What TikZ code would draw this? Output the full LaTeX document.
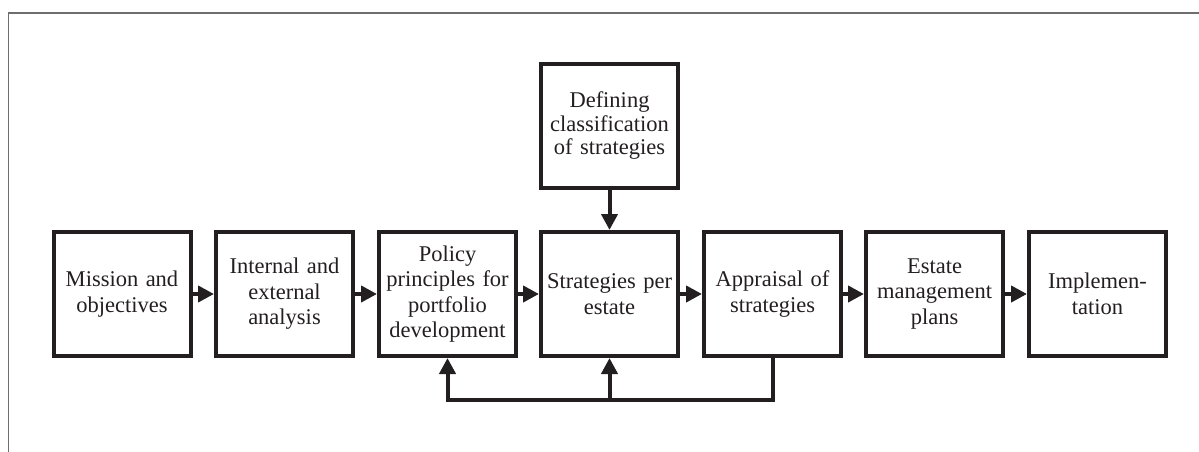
\documentclass[tikz,border=0pt]{standalone}
\usepackage{fontspec}
\setmainfont{Liberation Serif}
\usetikzlibrary{arrows.meta}
\definecolor{ink}{HTML}{231F20}
\definecolor{framec}{HTML}{6E6E6E}
\begin{document}
\begin{tikzpicture}[x=1pt,y=-1pt,
  box/.style={draw=ink, line width=4pt, minimum width=137pt, minimum height=124pt,
    inner sep=0pt, align=center, text width=134pt, text=ink,
    font=\fontsize{22.5}{25.5}\selectfont},
  conn/.style={draw=ink, line width=4pt, -{Triangle[length=16pt,width=16pt]}},
  frameline/.style={draw=framec, line width=1.5pt}]
\useasboundingbox (0,0) rectangle (1199,452);
\draw[frameline] (8.5,452) -- (8.5,13) -- (1199,13);
\node[box] (mis) at (122,294) {Mission and\\objectives};
\node[box] (ana) at (284.5,294) {Internal and\\external\\analysis};
\node[box] (pol) at (447.5,294) {Policy\\principles for\\portfolio\\development};
\node[box] (str) at (609.5,294) {Strategies per\\estate};
\node[box] (app) at (772.5,294) {Appraisal of\\strategies};
\node[box] (emp) at (934.5,294) {Estate\\management\\plans};
\node[box] (imp) at (1097.5,294) {Implemen-\\tation};
\node[box, font=\fontsize{22.5}{23.5}\selectfont] (def) at (609.5,126) {Defining\\classification\\of strategies};
\draw[conn] (mis) -- (ana);
\draw[conn] (ana) -- (pol);
\draw[conn] (pol) -- (str);
\draw[conn] (str) -- (app);
\draw[conn] (app) -- (emp);
\draw[conn] (emp) -- (imp);
\draw[conn] (def) -- (str);
\coordinate (fb) at (0,400);
\draw[conn] (app.south) -- (app.south |- fb) -| (pol.south);
\draw[conn] (str.south |- fb) -- (str.south);
\end{tikzpicture}
\end{document}
